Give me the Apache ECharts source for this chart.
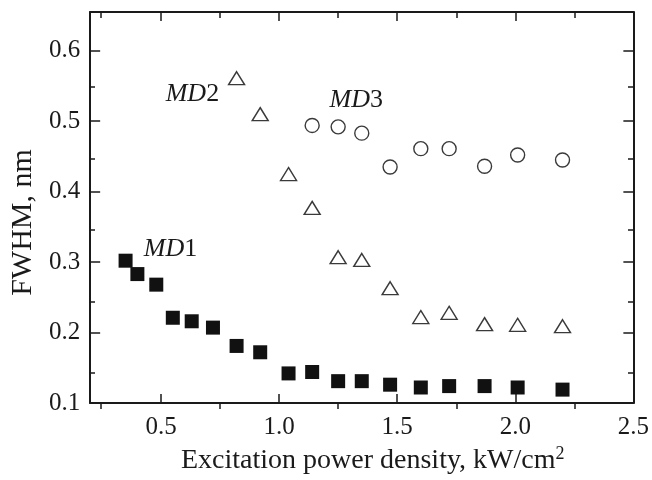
<!DOCTYPE html>
<html>
<head>
<meta charset="utf-8">
<script src="https://cdn.jsdelivr.net/npm/echarts@6/dist/echarts.min.js"></script>
<style>html,body{margin:0;padding:0;background:#fff}#c{width:652px;height:480px}</style>
</head>
<body>
<div id="c"></div>
<script>
// Data
const md1X = [0.35, 0.40, 0.48, 0.55, 0.63, 0.72, 0.82, 0.92, 1.04, 1.14, 1.25, 1.35, 1.47, 1.60, 1.72, 1.87, 2.01, 2.20];
const md1Y = [0.302, 0.283, 0.268, 0.221, 0.216, 0.207, 0.181, 0.172, 0.142, 0.144, 0.131, 0.131, 0.126, 0.122, 0.124, 0.124, 0.122, 0.119];
const md2X = [0.82, 0.92, 1.04, 1.14, 1.25, 1.35, 1.47, 1.60, 1.72, 1.87, 2.01, 2.20];
const md2Y = [0.561, 0.510, 0.425, 0.377, 0.307, 0.303, 0.263, 0.222, 0.228, 0.212, 0.211, 0.209];
const md3X = [1.14, 1.25, 1.35, 1.47, 1.60, 1.72, 1.87, 2.01, 2.20];
const md3Y = [0.494, 0.492, 0.483, 0.435, 0.461, 0.461, 0.436, 0.452, 0.445];
const seriesNames = ['MD1', 'MD2', 'MD3'];
const labelX = [0.54, 0.633, 1.327];
const labelY = [0.318, 0.539, 0.530];
const xMajorTicks = [0.5, 1.0, 1.5, 2.0];
const xMinorTicks = [0.25, 0.75, 1.25, 1.75, 2.25];
const xTickLabels = [0.5, 1.0, 1.5, 2.0, 2.5];
const yMajorTicks = [0.2, 0.3, 0.4, 0.5, 0.6];
const yMinorTicks = [0.15, 0.25, 0.35, 0.45, 0.55];
const yTickLabels = [0.1, 0.2, 0.3, 0.4, 0.5, 0.6];
const xTitle = 'Excitation power density, kW/cm{sup|2}';
const yTitle = 'FWHM, nm';

const X_MIN = 0.2, X_MAX = 2.5, Y_MIN = 0.1, Y_MAX = 0.655;
const FONT = 'Liberation Serif';
const INK = '#1a1a1a';
const zip = (xs, ys) => xs.map((x, i) => [x, ys[i]]);

const gridRect = { left: 89, right: 18, top: 12, bottom: 71 };

function xAxisDef(gridIndex, position, ticks, len, showLine, labels) {
  return {
    type: 'value', gridIndex, position, min: X_MIN, max: X_MAX,
    axisLine: { show: showLine, lineStyle: { color: INK, width: 2 } },
    axisTick: { show: true, inside: true, length: len, customValues: ticks, lineStyle: { color: INK, width: 1.5 } },
    axisLabel: labels ? { show: true, customValues: labels, margin: 12, color: INK, fontFamily: FONT, fontSize: 25, formatter: v => v.toFixed(1) } : { show: false },
    splitLine: { show: false }
  };
}
function yAxisDef(gridIndex, position, ticks, len, showLine, labels) {
  return {
    type: 'value', gridIndex, position, min: Y_MIN, max: Y_MAX,
    axisLine: { show: showLine, lineStyle: { color: INK, width: 2 } },
    axisTick: { show: true, inside: true, length: len, customValues: ticks, lineStyle: { color: INK, width: 1.5 } },
    axisLabel: labels ? { show: true, customValues: labels, margin: 10, color: INK, fontFamily: FONT, fontSize: 25, formatter: v => v.toFixed(1) } : { show: false },
    splitLine: { show: false }
  };
}

const xAxes = [
  xAxisDef(0, 'bottom', xMajorTicks, 9, true, xTickLabels),
  xAxisDef(0, 'top', xMajorTicks, 9, true, null),
  xAxisDef(1, 'bottom', xMinorTicks, 6, false, null),
  xAxisDef(1, 'top', xMinorTicks, 6, false, null)
];
Object.assign(xAxes[0], {
  name: xTitle, nameLocation: 'middle', nameGap: 42,
  nameTextStyle: { fontFamily: FONT, fontSize: 28, color: INK, padding: [0, 0, 0, 22],
    rich: { sup: { fontFamily: FONT, fontSize: 18, color: INK, padding: [0, 0, 14, 0] } } }
});
const yAxes = [
  yAxisDef(0, 'left', yMajorTicks, 10, true, yTickLabels),
  yAxisDef(0, 'right', yMajorTicks, 10, true, null),
  yAxisDef(1, 'left', yMinorTicks, 6, false, null),
  yAxisDef(1, 'right', yMinorTicks, 6, false, null)
];
Object.assign(yAxes[0], {
  name: yTitle, nameLocation: 'middle', nameGap: 52,
  nameTextStyle: { fontFamily: FONT, fontSize: 30, color: INK, padding: [0, 30, 0, 0] }
});

const hollow = { color: 'rgba(0,0,0,0)', borderColor: '#3a3a3a', borderWidth: 1.4, opacity: 1 };

const option = {
  animation: false,
  backgroundColor: '#fff',
  grid: [Object.assign({}, gridRect), Object.assign({}, gridRect)],
  xAxis: xAxes,
  yAxis: yAxes,
  series: [
    { name: seriesNames[0], type: 'scatter', xAxisIndex: 0, yAxisIndex: 0, symbol: 'rect', symbolSize: 14,
      itemStyle: { color: '#111', opacity: 1 }, data: zip(md1X, md1Y), silent: true },
    { name: seriesNames[1], type: 'scatter', xAxisIndex: 0, yAxisIndex: 0, symbol: 'triangle', symbolSize: [16, 13],
      itemStyle: hollow, data: zip(md2X, md2Y), silent: true },
    { name: seriesNames[2], type: 'scatter', xAxisIndex: 0, yAxisIndex: 0, symbol: 'circle', symbolSize: 14,
      itemStyle: hollow, data: zip(md3X, md3Y), silent: true },
    { name: 'labels', type: 'scatter', xAxisIndex: 0, yAxisIndex: 0, symbolSize: 0, silent: true,
      itemStyle: { opacity: 1 },
      data: labelX.map((x, i) => ({ value: [x, labelY[i]], name: seriesNames[i] })),
      label: { show: true, position: 'inside',
        formatter: p => '{i|' + p.name.slice(0, 2) + '}{n|' + p.name.slice(2) + '}',
        rich: { i: { fontFamily: FONT, fontStyle: 'italic', fontSize: 26, color: INK },
                n: { fontFamily: FONT, fontSize: 26, color: INK } } } }
  ]
};
const chart = echarts.init(document.getElementById('c'), null, { renderer: 'canvas' });
chart.setOption(option);
</script>
</body>
</html>
